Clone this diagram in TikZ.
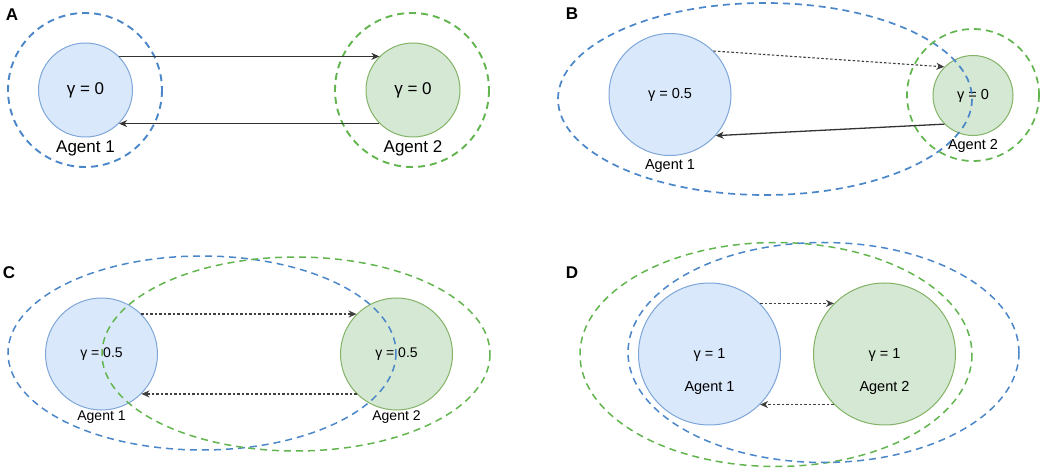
\documentclass[tikz,border=0pt]{standalone}
\usepackage{fontspec}
\setmainfont{Liberation Sans}
\usetikzlibrary{positioning,arrows.meta}

\definecolor{ringblue}{HTML}{4A86C8}
\definecolor{ringgreen}{HTML}{62B54E}
\definecolor{fillblue}{HTML}{DAE8FC}
\definecolor{lineblue}{HTML}{7EA6D8}
\definecolor{fillgreen}{HTML}{D5E8D4}
\definecolor{linegreen}{HTML}{82B366}

\begin{document}
\begin{tikzpicture}[
x=1pt, y=-1pt,
agent/.style={
  circle,
  inner sep=0pt,
  line width=1pt
  },
blueagent/.style={
  agent,
  draw=lineblue,
  fill=fillblue
  },
greenagent/.style={
  agent,
  draw=linegreen,
  fill=fillgreen
  },
plain/.style={
  draw=none,
  fill=none,
  inner sep=1pt
  },
bluering/.style={
  draw=ringblue,
  dash pattern=on 7pt off 5pt,
  line width=1.9pt
  },
greenring/.style={
  draw=ringgreen,
  dash pattern=on 7pt off 5pt,
  line width=1.9pt
  },
link/.style={
  ->,
  draw=black!80,
  line width=1.3pt
  },
dotlink/.style={
  link,
  draw=black!75,
  line width=1.1pt,
  dash pattern=on 2.5pt off 2pt
  },
>={Stealth[length=8pt,width=7pt,inset=2.5pt]}
]
\useasboundingbox (0,0) rectangle (1045,470);

% panel letters
\foreach \lab/\lx/\ly in {A/12/15, B/572/14, C/9/273, D/572/273}
  \node[plain, font=\bfseries\fontsize{17}{17}\selectfont] (lab\lab) at (\lx,\ly) {\lab};

% A
\draw[bluering] (85,90) circle[radius=77];
\draw[greenring] (412,90) circle[radius=77];
\node[blueagent, minimum size=94pt, font=\fontsize{17}{17}\selectfont] (a1) at (85.5,90) {γ = 0};
\node[greenagent, minimum size=94pt, font=\fontsize{17}{17}\selectfont] (a2) at (413,90) {γ = 0};
\node[plain, below=2pt of a1, font=\fontsize{17}{17}\selectfont] (a1name) {Agent 1};
\node[plain, below=2pt of a2, font=\fontsize{17}{17}\selectfont] (a2name) {Agent 2};
\draw[link] (a1.45) -- (a2.135);
\draw[link] (a2.-135) -- (a1.-45);

% B
\node[blueagent, minimum size=122pt, font=\fontsize{14.5}{14.5}\selectfont] (b1) at (670,94.5) {γ = 0.5};
\node[greenagent, minimum size=80pt, font=\fontsize{14.5}{14.5}\selectfont] (b2) at (973,95.5) {γ = 0};
\draw[bluering, line width=1.7pt] (765,99) ellipse[x radius=207, y radius=96];
\draw[greenring, line width=1.7pt] (973,95) circle[radius=66];
\node[plain, below=2pt of b1, font=\fontsize{14.5}{14.5}\selectfont] (b1name) {Agent 1};
\node[plain, below=2pt of b2, font=\fontsize{14.5}{14.5}\selectfont] (b2name) {Agent 2};
\draw[dotlink] (b1.45) -- (b2.135);
\draw[link] (b2.-135) -- (b1.-42);

% C
\node[blueagent, minimum size=112pt, font=\fontsize{14}{14}\selectfont] (c1) at (101.5,354) {γ = 0.5};
\node[greenagent, minimum size=112pt, font=\fontsize{14}{14}\selectfont] (c2) at (396.5,354) {γ = 0.5};
\draw[bluering, line width=1.5pt] (202,353) ellipse[x radius=194, y radius=97];
\draw[greenring, line width=1.5pt] (296,354) ellipse[x radius=194, y radius=97];
\node[plain, below=-1pt of c1, font=\fontsize{14}{14}\selectfont] (c1name) {Agent 1};
\node[plain, below=-1pt of c2, font=\fontsize{14}{14}\selectfont] (c2name) {Agent 2};
\draw[dotlink] (c1.45) -- (c2.135);
\draw[dotlink] (c2.-135) -- (c1.-45);

% D
\draw[greenring, line width=1.5pt] (776,354.5) ellipse[x radius=196, y radius=112];
\draw[bluering, line width=1.5pt] (823.5,352.5) ellipse[x radius=195.5, y radius=110];
\node[blueagent, minimum size=142pt] (d1) at (709.5,354) {};
\node[greenagent, minimum size=142pt] (d2) at (884.5,354) {};
\foreach \n/\k in {d1/1, d2/2}
{
  \node[plain, font=\fontsize{14.5}{14.5}\selectfont] (\n gamma) at ([yshift=-1pt]\n.center) {γ = 1};
  \node[plain, font=\fontsize{14.5}{14.5}\selectfont] (\n name) at ([yshift=-34pt]\n.center) {Agent \k};
}
\draw[dotlink] (d1.45) -- (d2.135);
\draw[dotlink] (d2.-135) -- (d1.-45);
\end{tikzpicture}
\end{document}
